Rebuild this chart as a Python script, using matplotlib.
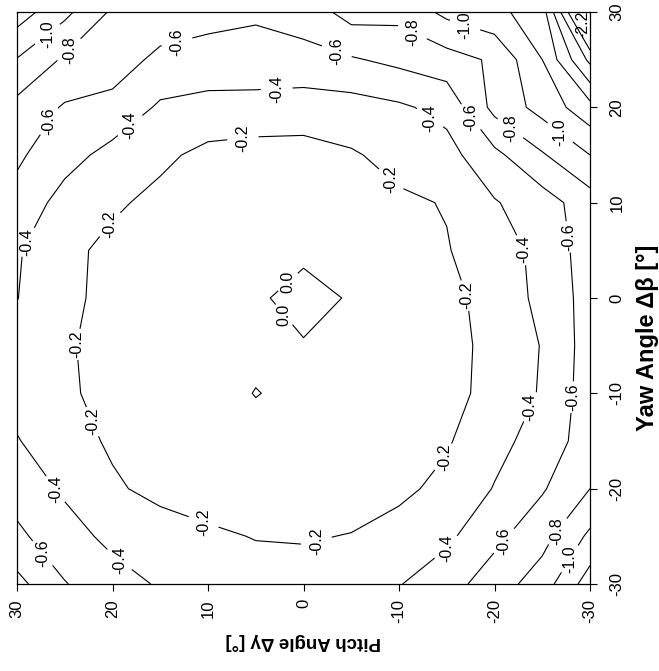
#%% Import packages
import numpy as np
import matplotlib.pyplot as plt

plt.rcParams['font.family'] = ['Liberation Sans', 'DejaVu Sans']
plt.rcParams['axes.unicode_minus'] = False

#%% Data (5 deg grid)

# pitch runs 30 -> -30 (left to right), yaw 30 -> -30 (top to bottom)
pitch = [30, 25, 20, 15, 10, 5, 0, -5, -10, -15, -20, -25, -30]
yaw = [30, 25, 20, 15, 10, 5, 0, -5, -10, -15, -20, -25, -30]

cp_yaw_p30 = [-1.3, -1.05, -0.77, -0.7, -0.66, -0.63, -0.68, -0.88, -0.86, -1.05, -1.15, -1.3, -2.6]
cp_yaw_p25 = [-0.99, -0.77, -0.68, -0.56, -0.53, -0.52, -0.54, -0.58, -0.65, -0.72, -0.83, -1.2, -1.85]
cp_yaw_p20 = [-0.74, -0.58, -0.55, -0.37, -0.33, -0.33, -0.3, -0.32, -0.37, -0.46, -0.86, -1.07, -1.33]
cp_yaw_p15 = [-0.63, -0.48, -0.33, -0.24, -0.15, -0.12, -0.13, -0.18, -0.26, -0.33, -0.55, -0.78, -1.0]
cp_yaw_p10 = [-0.54, -0.32, -0.23, -0.15, -0.09, -0.06, -0.06, -0.09, -0.17, -0.21, -0.385, -0.51, -0.71]
cp_yaw_p05 = [-0.42, -0.25, -0.15, -0.1, -0.06, -0.03, -0.018, -0.04, -0.1, -0.19, -0.3, -0.46, -0.7]
cp_yaw_00 = [-0.405, -0.24, -0.15, -0.09, -0.05, -0.013, 0.03, -0.0075, -0.05, -0.14, -0.28, -0.45, -0.68]
cp_yaw_m05 = [-0.33, -0.22, -0.14, -0.09, -0.06, -0.03, -0.006, -0.02, -0.05, -0.14, -0.25, -0.41, -0.69]
cp_yaw_m10 = [-0.34, -0.23, -0.14, -0.09, -0.05, 0.004, -0.03, -0.04, -0.06, -0.14, -0.26, -0.42, -0.7]
cp_yaw_m15 = [-0.41, -0.29, -0.17, -0.11, -0.06, -0.04, -0.04, -0.05, -0.09, -0.18, -0.34, -0.48, -0.7]
cp_yaw_m20 = [-0.52, -0.37, -0.23, -0.14, -0.09, -0.06, -0.06, -0.08, -0.16, -0.25, -0.41, -0.58, -0.8]
cp_yaw_m25 = [-0.64, -0.48, -0.35, -0.3, -0.24, -0.19, -0.18, -0.21, -0.27, -0.36, -0.55, -0.73, -1.04]
cp_yaw_m30 = [-0.86, -0.61, -0.48, -0.38, -0.33, -0.3, -0.3, -0.33, -0.39, -0.52, -0.7, -0.9, -1.3]

levels = [-2.2, -2.0, -1.8, -1.6, -1.4, -1.2, -1.0, -0.8, -0.6, -0.4, -0.2, 0.0]
ticks = [-30, -20, -10, 0, 10, 20, 30]

# where the scan has its contour labels (pitch, yaw)
label_spots = [(26.9, 27.8), (24.5, 26.0), (26.9, 18.7), (13.2, 26.7), (28.8, 5.8),
               (18.0, 17.9), (2.8, 21.8), (6.3, 16.3), (20.5, 7.9), (2.1, 2.2),
               (-3.6, 26.2), (-11.5, 28.1), (-17.1, 29.2), (-29.0, 28.6),
               (-12.9, 18.4), (-17.4, 18.9), (-22.1, 18.4), (-26.9, 17.4),
               (-9.3, 12.6), (-22.9, 5.0), (-27.6, 6.4), (-17.7, 0.5),
               (-23.7, -11.4), (-28.2, -10.4), (-15.1, -17.0), (-26.5, -24.4),
               (-27.6, -27.2), (-20.9, -25.4), (-15.0, -26.2), (-1.4, -25.7),
               (10.5, -23.6), (22.4, -13.1), (24.5, -4.7), (26.2, -20.2),
               (26.5, -26.1), (19.7, -28.0), (2.7, -2.3)]

Z = np.array([cp_yaw_p30, cp_yaw_p25, cp_yaw_p20, cp_yaw_p15, cp_yaw_p10, cp_yaw_p05,
              cp_yaw_00, cp_yaw_m05, cp_yaw_m10, cp_yaw_m15, cp_yaw_m20, cp_yaw_m25,
              cp_yaw_m30])

#%% Plot (figure is shown turned on its side, like the scan)
fig = plt.figure(figsize=(6.59, 6.71), dpi=100)
ax = fig.add_axes([0.0258, 0.1297, 0.8695, 0.8524])

cs = ax.contour(pitch, yaw, Z, levels=levels, colors='k', linewidths=0.8,
                linestyles='solid')
lbls = ax.clabel(cs, levels, fontsize=11.5, inline=True, inline_spacing=2,
                 manual=label_spots,
                 fmt=lambda v: '%.1f' % v if abs(v) > 1e-9 else '0.0')
# labels stand upright in the turned frame
for t in lbls:
    t.set_rotation(90)

ax.set_xlim(30, -30)
ax.set_ylim(-30, 30)
ax.set_xticks(ticks)
ax.set_yticks(ticks)

ax.yaxis.tick_right()
ax.tick_params(axis='both', direction='out', length=5, width=0.8, labelsize=12)
ax.tick_params(axis='x', pad=6, labelrotation=90)
ax.tick_params(axis='y', pad=9, labelrotation=90)
for t in ax.get_yticklabels():
    t.set_va('center')
    t.set_ha('left')

for s in ax.spines.values():
    s.set_linewidth(0.9)

ax.set_xlabel('Pitch Angle Δγ [°]', fontsize=13.5, fontweight='bold', rotation=180)
ax.xaxis.set_label_coords(0.5, -0.085)
ax.yaxis.set_label_position('right')
ax.set_ylabel('Yaw Angle Δβ [°]', fontsize=17, fontweight='bold', rotation=90)
ax.yaxis.set_label_coords(1.08, 0.43)

plt.savefig('out.png', dpi=100)
